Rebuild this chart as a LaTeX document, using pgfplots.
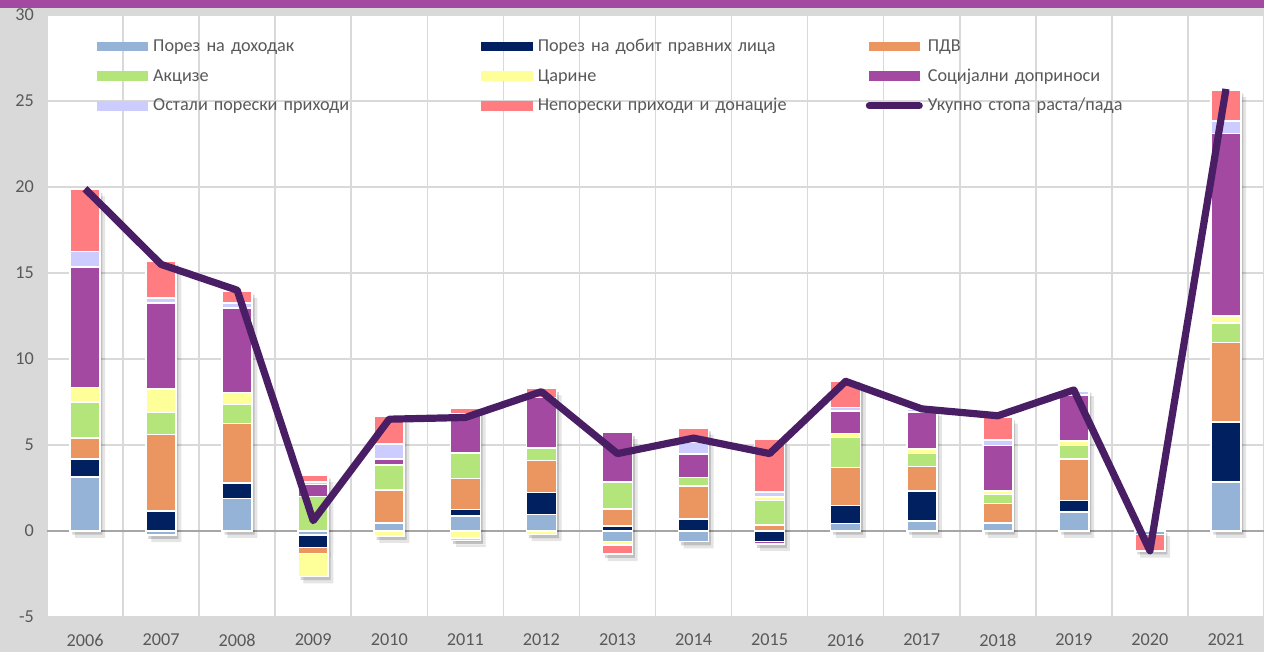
\documentclass[border=0pt]{standalone}
\usepackage{fontspec}
\setmainfont{Carlito}
\usepackage{pgfplots}
\usepackage{pgfplotstable}
\pgfplotsset{compat=1.18}

\definecolor{cA}{HTML}{95B3D7}
\definecolor{cB}{HTML}{002060}
\definecolor{cC}{HTML}{EB9661}
\definecolor{cD}{HTML}{B3E57A}
\definecolor{cE}{HTML}{FFFF99}
\definecolor{cF}{HTML}{A349A1}
\definecolor{cG}{HTML}{CCCCFF}
\definecolor{cH}{HTML}{FF7C80}
\definecolor{linec}{HTML}{4A1E64}
\definecolor{bggray}{HTML}{D9D9D9}
\definecolor{gridgray}{HTML}{D9D9D9}
\definecolor{zerogray}{HTML}{A6A6A6}
\definecolor{txt}{HTML}{595959}

% positive parts of each contribution
\pgfplotstableread{
x  A    B    C    D    E    F     G    H
0  3.15 1.05 1.20 2.10 0.85 7.00  0.90 3.60
1  0    1.15 4.45 1.30 1.35 5.00  0.30 2.15
2  1.90 0.90 3.45 1.10 0.70 4.90  0.30 0.70
3  0    0    0    2.00 0    0.70  0.15 0.40
4  0.45 0    1.95 1.45 0    0.35  0.85 1.65
5  0.87 0.38 1.80 1.50 0    2.27  0    0.31
6  0.97 1.26 1.88 0.73 0    2.91  0    0.53
7  0    0.30 0.97 1.59 0    2.87  0    0
8  0    0.68 1.94 0.48 0    1.36  0.71 0.83
9  0    0    0.35 1.43 0.20 0     0.30 3.07
10 0.43 1.06 2.19 1.75 0.23 1.30  0.21 1.53
11 0.58 1.73 1.43 0.76 0.25 2.17  0.19 0
12 0.48 0    1.13 0.52 0.20 2.65  0.31 1.35
13 1.10 0.68 2.42 0.78 0.25 2.66  0.25 0.10
14 0    0    0    0    0.10 0     0    0
15 2.85 3.49 4.61 1.16 0.39 10.62 0.72 1.80
}\pos

% negative parts
\pgfplotstableread{
x  A     B     C     D  E     F     G     H
0  0     0     0     0  0     0     0     0
1  -0.25 0     0     0  0     0     0     0
2  0     0     0     0  0     0     0     0
3  -0.25 -0.70 -0.35 0  -1.35 0     0     0
4  0     0     0     0  -0.30 0     0     0
5  0     0     0     0  -0.40 0     -0.15 0
6  0     0     0     0  -0.20 0     0     0
7  -0.60 0     0     0  -0.20 0     0     -0.55
8  -0.62 0     0     0  0     0     0     0
9  0     -0.60 0     0  0     -0.17 0     0
10 0     0     0     0  0     0     0     0
11 0     0     0     0  0     0     0     0
12 0     0     0     0  0     0     0     0
13 0     0     0     0  0     0     0     0
14 -0.20 0     0     0  0     0     0     -0.95
15 0     0     0     0  0     0     0     0
}\neg

% total growth rate
\pgfplotstableread{
x  T
0  19.9
1  15.5
2  14.0
3  0.6
4  6.5
5  6.6
6  8.1
7  4.5
8  5.4
9  4.5
10 8.7
11 7.1
12 6.7
13 8.2
14 -1.15
15 25.7
}\tot

\pgfplotsset{
  base/.style={
    scale only axis, width=608.5pt, height=301pt,
    at={(0,0)}, anchor=south west,
    xmin=-0.5, xmax=15.5, ymin=-5, ymax=30,
  },
  seg/.style={fill=#1, draw=white, line width=0.8pt,
    legend image code/.code={\fill[#1] (0pt,-2pt) rectangle (25pt,2pt);}},
  lineleg/.style={legend image code/.code={\draw[##1] (0pt,0pt) -- (25pt,0pt);}},
}

% soft drop shadow of a stack: table, x offset, y offset, opacity
\newcommand{\shadowaxis}[4]{%
\begin{axis}[base, ybar stacked, bar width=15pt, hide axis, at={(#2,#3)}]
\addplot[fill=black, fill opacity=#4, draw=none] table[x=x,y=A]{#1};
\addplot[fill=black, fill opacity=#4, draw=none] table[x=x,y=B]{#1};
\addplot[fill=black, fill opacity=#4, draw=none] table[x=x,y=C]{#1};
\addplot[fill=black, fill opacity=#4, draw=none] table[x=x,y=D]{#1};
\addplot[fill=black, fill opacity=#4, draw=none] table[x=x,y=E]{#1};
\addplot[fill=black, fill opacity=#4, draw=none] table[x=x,y=F]{#1};
\addplot[fill=black, fill opacity=#4, draw=none] table[x=x,y=G]{#1};
\addplot[fill=black, fill opacity=#4, draw=none] table[x=x,y=H]{#1};
\end{axis}}

\begin{document}
\begin{tikzpicture}[font=\fontsize{9.1}{11}\selectfont]
\useasboundingbox (-23.5pt,-17.5pt) rectangle (608.5pt,308.5pt);
\fill[bggray] (-23.5pt,-17.5pt) rectangle (608.5pt,308.5pt);
\fill[cF] (-23.5pt,304.5pt) rectangle (608.5pt,308.5pt);
\fill[white] (0,0) rectangle (608.5pt,301pt);

% grid and tick labels
\begin{axis}[base,
  axis line style={draw=none},
  major tick length=0pt, minor tick length=0pt,
  xtick={0,...,15},
  xticklabels={2006,2007,2008,2009,2010,2011,2012,2013,2014,2015,2016,2017,2018,2019,2020,2021},
  minor xtick={-0.5,0.5,...,15.5},
  xminorgrids=true, xmajorgrids=false,
  ytick={-5,0,...,30},
  yticklabels={-5,0,5,10,15,20,25,30},
  ymajorgrids=true,
  grid style={gridgray, line width=0.8pt},
  minor grid style={gridgray, line width=0.8pt},
  extra y ticks={0}, extra y tick labels={},
  extra y tick style={grid style={zerogray, line width=0.8pt}},
  ticklabel style={text=txt},
  xticklabel style={yshift=-5pt},
  yticklabel style={xshift=-3pt},
]
\end{axis}

\shadowaxis{\pos}{1.2pt}{-1.8pt}{0.16}
\shadowaxis{\pos}{2.6pt}{-3.4pt}{0.10}
\shadowaxis{\neg}{1.2pt}{-1.8pt}{0.16}
\shadowaxis{\neg}{2.6pt}{-3.4pt}{0.10}

\begin{axis}[base, ybar stacked, bar width=15pt, hide axis,
  legend columns=3,
  legend style={at={(axis description cs:0.0355,0.978)}, anchor=north west,
    draw=none, fill=none, text=txt, row sep=0.8pt,
    nodes={text width=155pt, align=left, text height=7pt, text depth=2pt, inner sep=2.5pt},
    /tikz/every even column/.append style={column sep=6.5pt}},
]
\addplot[seg=cA] table[x=x,y=A]{\pos};
\addplot[seg=cB] table[x=x,y=B]{\pos};
\addplot[seg=cC] table[x=x,y=C]{\pos};
\addplot[seg=cD] table[x=x,y=D]{\pos};
\addplot[seg=cE] table[x=x,y=E]{\pos};
\addplot[seg=cF] table[x=x,y=F]{\pos};
\addplot[seg=cG] table[x=x,y=G]{\pos};
\addplot[seg=cH] table[x=x,y=H]{\pos};
\addlegendimage{linec, line width=3.5pt, line cap=round, lineleg}
\legend{Порез на доходак, Порез на добит правних лица, ПДВ, Акцизе, Царине,
  Социјални доприноси, Остали порески приходи, Непорески приходи и донације,
  Укупно стопа раста/пада}
\end{axis}

\begin{axis}[base, ybar stacked, bar width=15pt, hide axis]
\addplot[seg=cA] table[x=x,y=A]{\neg};
\addplot[seg=cB] table[x=x,y=B]{\neg};
\addplot[seg=cC] table[x=x,y=C]{\neg};
\addplot[seg=cD] table[x=x,y=D]{\neg};
\addplot[seg=cE] table[x=x,y=E]{\neg};
\addplot[seg=cF] table[x=x,y=F]{\neg};
\addplot[seg=cG] table[x=x,y=G]{\neg};
\addplot[seg=cH] table[x=x,y=H]{\neg};
\end{axis}

\begin{axis}[base, hide axis]
\addplot[linec, line width=3.6pt, line join=round, mark=none] table[x=x,y=T]{\tot};
\end{axis}
\end{tikzpicture}
\end{document}
